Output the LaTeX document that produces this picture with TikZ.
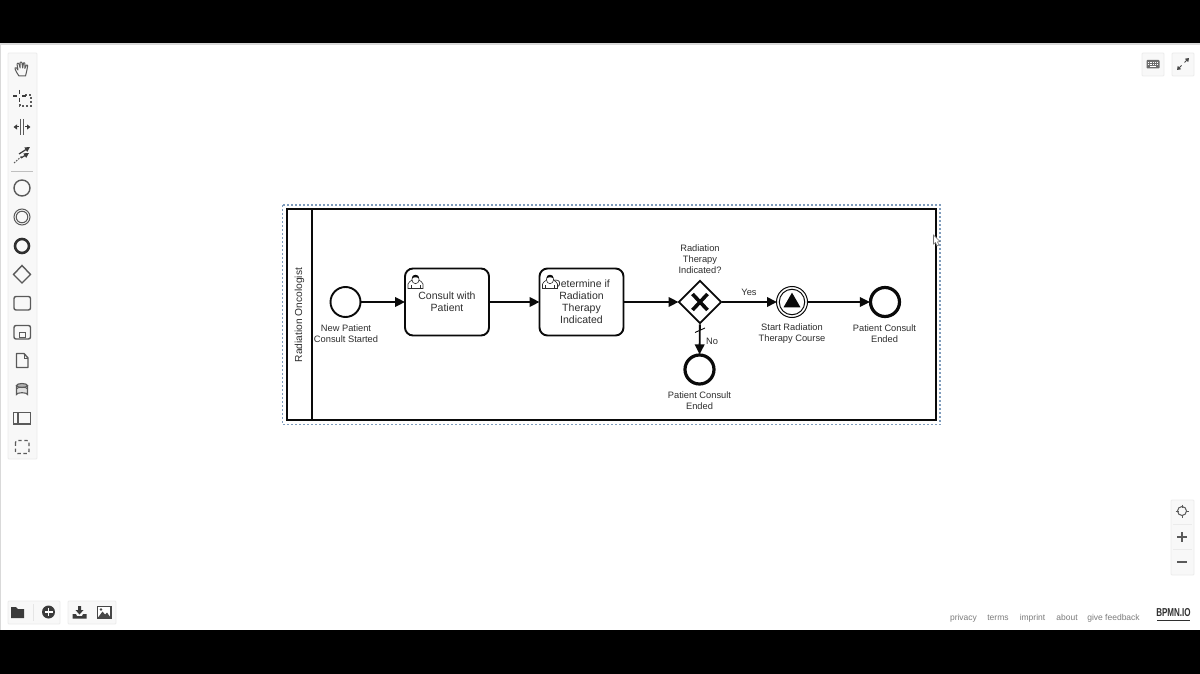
\documentclass[tikz,border=0pt]{standalone}
\usepackage{fontspec}
\setmainfont{Liberation Sans}
\usetikzlibrary{arrows.meta,shapes.geometric,calc}
\definecolor{ink}{HTML}{0A0A0A}
\definecolor{lab}{HTML}{2E2E2E}
\definecolor{tool}{HTML}{5A5A5A}
\definecolor{panel}{HTML}{F8F8F8}
\definecolor{panelb}{HTML}{ECECEC}
\definecolor{foot}{HTML}{7C7C7C}
\definecolor{sel}{HTML}{7F9CBC}
\tikzset{
  x=1pt,y=-1pt,
  flow/.style={draw=ink,line width=1.9pt,-{Triangle[length=10pt,width=9.5pt]},shorten >=-1pt},
  startev/.style={circle,draw=ink,line width=1.9pt,fill=white,minimum size=30pt,inner sep=0pt},
  endev/.style={circle,draw=ink,line width=3.2pt,fill=white,minimum size=29pt,inner sep=0pt},
  interev/.style={circle,draw=ink,line width=1pt,fill=white,minimum size=31pt,inner sep=0pt},
  taskbox/.style={rectangle,rounded corners=8pt,draw=ink,line width=1.9pt,fill=white,minimum width=84pt,minimum height=67pt,inner sep=0pt,align=center,text=lab,font=\fontsize{10.5}{12}\selectfont},
  gate/.style={diamond,draw=ink,line width=1.9pt,fill=white,minimum width=43pt,minimum height=43pt,inner sep=0pt},
  lbl/.style={align=center,text=lab,inner sep=0pt,font=\fontsize{9.3}{11}\selectfont},
  foottext/.style={text=foot,inner sep=0pt,font=\fontsize{8.5}{10}\selectfont},
  ico/.style={draw=tool,line width=1.4pt,fill=none},
  icofill/.style={fill=tool,draw=none},
  panelbox/.style={draw=panelb,fill=panel,line width=0.8pt,rounded corners=1pt},
}
\newcommand{\usericon}[2]{%
  \begin{scope}[shift={(#1,#2)}]
    \draw[draw=lab,line width=0.6pt,fill=white] (-7.5,8) -- (-7.5,3.5) .. controls (-7.5,1) and (-4,0.5) .. (-3,-0.5) -- (3,-0.5) .. controls (4,0.5) and (7.5,1) .. (7.5,3.5) -- (7.5,8) -- cycle;
    \draw[draw=lab,line width=0.6pt,fill=white] (0,-1) circle[x radius=3.6pt,y radius=4.2pt];
    \fill[ink] (-3.7,-2) .. controls (-3.7,-7) and (3.7,-7) .. (3.7,-2) .. controls (2,-3.6) and (-2,-3.6) .. (-3.7,-2) -- cycle;
    \draw[draw=lab,line width=0.5pt] (-4.5,8) -- (-4.5,4.5) (4.5,8) -- (4.5,4.5);
  \end{scope}}
\begin{document}
\begin{tikzpicture}
\useasboundingbox (0,0) rectangle (1200,674);
\fill[white] (0,0) rectangle (1200,674);
\fill[black] (0,0) rectangle (1200,43);
\fill[black] (0,630) rectangle (1200,674);
\fill[black!15] (0,43) rectangle (1200,45);
\fill[black!15] (0,43) rectangle (1,630);

% selection and lane
\draw[sel,line width=1.1pt,dash pattern=on 2pt off 2pt] (282.5,205) rectangle (940,424.5);
\node[draw=ink,line width=2pt,fill=white,minimum width=649pt,minimum height=211pt,inner sep=0pt] (lane) at (611.5,314.5) {};
\draw[ink,line width=2pt] (312,209) -- (312,420);
\node[rotate=90,text=lab,inner sep=0pt,font=\fontsize{10.2}{12}\selectfont] (lanelabel) at (299.5,315) {Radiation Oncologist};

% flow nodes
\node[startev] (start) at (345.5,302) {};
\node[taskbox] (consult) at (447,302) {Consult with\\Patient};
\node[taskbox] (determine) at (581.5,302) {Determine if\\Radiation\\Therapy\\Indicated};
\node[gate] (gw) at (700,302) {};
\node[endev] (endno) at (699.5,369.5) {};
\node[interev] (inter) at (792,302) {};
\node[circle,draw=ink,line width=1pt,minimum size=25.5pt,inner sep=0pt] (interin) at (792,302) {};
\node[regular polygon,regular polygon sides=3,fill=ink,inner sep=0pt,minimum size=19.5pt] (intertri) at (792,302.4) {};
\node[endev] (endyes) at (885,302) {};

\usericon{415.5}{280.5}
\usericon{550}{280.5}

% gateway X
\draw[ink,line width=3.6pt] (692.5,294) -- (707.5,310) (707.5,294) -- (692.5,310);

% labels
\node[lbl] (startlabel) at (346,334) {New Patient\\Consult Started};
\node[lbl] (gwlabel) at (700,259.5) {Radiation\\Therapy\\Indicated?};
\node[lbl] (interlabel) at (792,334) {Start Radiation\\Therapy Course};
\node[lbl] (endyeslabel) at (884.5,334) {Patient Consult\\Ended};
\node[lbl] (endnolabel) at (699.5,401) {Patient Consult\\Ended};
\node[lbl] (yeslabel) at (749,292.5) {Yes};
\node[lbl] (nolabel) at (712,341.5) {No};

% connectors
\draw[flow] (start) -- (consult);
\draw[flow] (consult) -- (determine);
\draw[flow] (determine) -- (gw);
\draw[flow] (gw) -- (inter);
\draw[flow] (inter) -- (endyes);
\draw[flow] (gw) -- (endno);
\coordinate (slashA) at (695,332.5);
\coordinate (slashB) at (705,328);
\draw[ink,line width=0.9pt] (slashA) -- (slashB);

% cursor
\draw[fill=white,draw=black!55,line width=0.6pt] (933.5,235) -- (933.5,244) -- (935.5,242.5) -- (937,246) -- (939,245) -- (937.5,242) -- (940,241.5) -- cycle;

% left toolbar
\draw[panelbox] (8,53) rectangle (37,459);
\draw[black!25,line width=0.7pt] (11,171) -- (33,171);
% hand
\begin{scope}[shift={(22,69)}]
  \draw[draw=tool,line width=1pt,line join=round,fill=none] (-3,7) .. controls (-5,4) and (-7,1) .. (-7,-1) .. controls (-6,-2) and (-5,-1) .. (-4,1) -- (-5,-5) .. controls (-4.5,-6.5) and (-3.5,-6) .. (-3,-5) -- (-1.8,-1) -- (-2,-6.5) .. controls (-1.2,-7.5) and (-0.3,-7) .. (0,-6) -- (0.7,-1) -- (1.5,-6) .. controls (2.3,-6.8) and (3,-6) .. (3,-5) -- (2.8,-0.5) -- (4.5,-4) .. controls (5.5,-4.5) and (6,-3.5) .. (5.6,-2.5) -- (4.5,3) -- (3.5,7) -- cycle;
\end{scope}
% lasso
\begin{scope}[shift={(22,99)}]
  \draw[draw=tool,line width=1.1pt,dash pattern=on 2pt off 2pt] (3,-4) -- (9,-4) -- (9,7) -- (-2,7) -- (-2,5);
  \draw[draw=ink!80,line width=1.6pt] (-9,-3) -- (-5,-3) (0,-3) -- (4,-3) (-2.5,-9) -- (-2.5,-5) (-2.5,-1) -- (-2.5,3);
\end{scope}
% space tool
\begin{scope}[shift={(22,127)}]
  \draw[draw=tool,line width=1pt] (-1.5,-8) -- (-1.5,8) (1.5,-8) -- (1.5,8);
  \draw[draw=ink!80,line width=1pt,-{Triangle[length=3.5pt,width=5pt]}] (-3,0) -- (-8.5,0);
  \draw[draw=ink!80,line width=1pt,-{Triangle[length=3.5pt,width=5pt]}] (3,0) -- (8.5,0);
\end{scope}
% connect tool
\begin{scope}[shift={(22,155)}]
  \draw[draw=tool,line width=1pt,dash pattern=on 1.6pt off 1.2pt] (-8,8) -- (0,1);
  \draw[draw=ink!80,line width=1.2pt,-{Triangle[length=5pt,width=5pt]}] (-3,-1) -- (8,-8);
  \draw[draw=ink!80,line width=1.2pt,-{Triangle[length=5pt,width=5pt]}] (-1,3) -- (7,-2);
\end{scope}
\draw[ico] (22,188) circle[radius=8pt];
\draw[draw=tool,line width=1pt] (22,217) circle[radius=8pt] (22,217) circle[radius=5.8pt];
\draw[draw=ink!85,line width=2.6pt] (22,246) circle[radius=7pt];
\draw[ico] (22,265.5) -- (30.5,274.5) -- (22,283) -- (13.5,274.5) -- cycle;
\draw[ico,rounded corners=2pt] (14,296.5) rectangle (30.5,310);
\draw[ico,rounded corners=2pt] (14,325.5) rectangle (30.5,339);
\draw[draw=tool,line width=0.9pt] (19.5,332) rectangle (25,337);
\draw[ico,line join=round] (16.5,353.5) -- (24,353.5) -- (28,358) -- (28,367.5) -- (16.5,367.5) -- cycle;
\draw[draw=tool,line width=0.8pt] (24,353.5) -- (24,358) -- (28,358);
\draw[draw=tool,line width=1.1pt,fill=black!12] (16.5,385.5) -- (16.5,394.5) arc[start angle=180,end angle=360,x radius=5.5pt,y radius=-1.8pt] -- (27.5,385.5);
\draw[draw=tool,line width=1.1pt,fill=black!30] (22,385.5) ellipse[x radius=5.5pt,y radius=2pt];
\draw[draw=tool,line width=0.9pt] (16.5,389) arc[start angle=180,end angle=360,x radius=5.5pt,y radius=-1.8pt];
\draw[ico] (13.5,412.5) rectangle (30.5,424);
\draw[draw=tool,line width=1.1pt] (18,412.5) -- (18,424);
\draw[draw=tool,line width=1.2pt,rounded corners=2pt,dash pattern=on 3.4pt off 2.6pt] (15.5,440.5) rectangle (29,453.5);

% bottom left
\draw[panelbox] (8,601) rectangle (60,624);
\draw[panelbox] (68,601) rectangle (116,624);
\draw[black!10,line width=0.7pt] (33,604) -- (33,621);
\fill[ink!80] (11,607) -- (16,607) -- (18,609) -- (24,609) -- (24,618) -- (11,618) -- cycle;
\fill[ink!80] (48.5,612) circle[radius=6.5pt];
\fill[white] (44.5,611.2) rectangle (52.5,612.8);
\fill[white] (47.7,608) rectangle (49.3,616);
\fill[ink!80] (72.5,614) -- (76,614) -- (77,616) -- (82,616) -- (83,614) -- (86.5,614) -- (86.5,618.5) -- (72.5,618.5) -- cycle;
\fill[ink!80] (78,606) rectangle (81,610) (75.5,610) -- (83.5,610) -- (79.5,614.5) -- cycle;
\draw[draw=ink!75,line width=1.1pt,fill=white] (97.5,606.5) rectangle (111,618);
\fill[ink!75] (98,617.5) -- (102.5,611.5) -- (105,614.5) -- (107,612.5) -- (110.5,617.5) -- cycle;
\fill[ink!75] (101,609.5) circle[radius=1.3pt];

% top right
\draw[panelbox] (1142,53) rectangle (1164,76);
\draw[panelbox] (1172,53) rectangle (1194,76);
\fill[ink!60,rounded corners=0.8pt] (1146.5,60) rectangle (1159.5,68.5);
\draw[white,line width=0.6pt,dash pattern=on 1pt off 0.7pt] (1148,62) -- (1158,62) (1148,64.2) -- (1158,64.2);
\draw[white,line width=0.7pt] (1150,66.5) -- (1156,66.5);
\draw[draw=ink!75,line width=1pt,-{Triangle[length=3.5pt,width=4.5pt]}] (1184.5,62.5) -- (1189,58);
\draw[draw=ink!75,line width=1pt,-{Triangle[length=3.5pt,width=4.5pt]}] (1181.5,65.5) -- (1177,70);

% bottom right
\draw[panelbox] (1171,500) rectangle (1194,575);
\draw[black!8,line width=0.6pt] (1173,524) -- (1192,524) (1173,549) -- (1192,549);
\draw[draw=tool,line width=1pt] (1182,511) circle[radius=4.5pt];
\draw[draw=tool,line width=1pt] (1182,504.5) -- (1182,507.5) (1182,514.5) -- (1182,517.5) (1175.5,511) -- (1178.5,511) (1185.5,511) -- (1188.5,511);
\draw[draw=tool,line width=1.2pt] (1177,537) -- (1187,537) (1182,532) -- (1182,542);
\draw[draw=tool,line width=1.2pt] (1177,562) -- (1187,562);

% footer
\node[foottext,anchor=base] (fp) at (963.5,620.5) {privacy};
\node[foottext,anchor=base] (ft) at (998,620.5) {terms};
\node[foottext,anchor=base] (fi) at (1032.5,620.5) {imprint};
\node[foottext,anchor=base] (fa) at (1067,620.5) {about};
\node[foottext,anchor=base] (ff) at (1113.5,620.5) {give feedback};
\node[inner sep=0pt,text=ink!85,xscale=0.7,font=\fontsize{11.5}{12}\selectfont\bfseries] (logo) at (1173.5,613) {BPMN.IO};
\draw[ink!85,line width=1.5pt] (1157,620.5) -- (1190,620.5);
\end{tikzpicture}
\end{document}
